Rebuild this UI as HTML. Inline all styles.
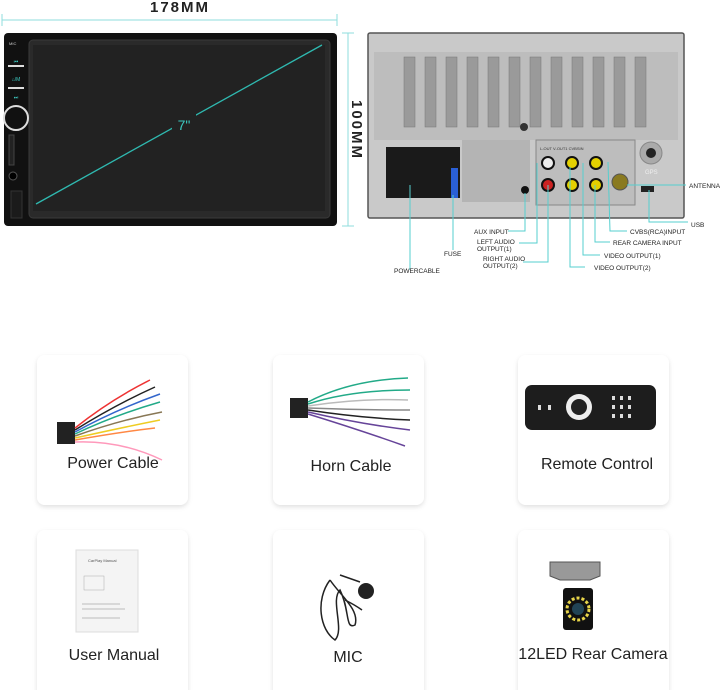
<!DOCTYPE html>
<html><head><meta charset="utf-8"><style>
html,body{margin:0;padding:0;background:#fff;width:720px;height:690px;overflow:hidden;font-family:"Liberation Sans",sans-serif}
</style></head><body>
<svg width="720" height="690" viewBox="0 0 720 690" xmlns="http://www.w3.org/2000/svg" font-family="Liberation Sans, sans-serif">
<defs>
<filter id="sh" x="-10%" y="-10%" width="120%" height="125%"><feDropShadow dx="0" dy="2" stdDeviation="2.5" flood-color="#000" flood-opacity="0.12"/></filter>
</defs>
<text x="180" y="12" font-size="15" font-weight="bold" text-anchor="middle" letter-spacing="2" fill="#222">178MM</text>
<line x1="2" y1="20" x2="337" y2="20" stroke="#8fdede" stroke-width="1"/>
<line x1="2" y1="14" x2="2" y2="26" stroke="#8fdede"/><line x1="337" y1="14" x2="337" y2="26" stroke="#8fdede"/>
<line x1="348" y1="33" x2="348" y2="226" stroke="#8fdede"/>
<line x1="342" y1="33" x2="354" y2="33" stroke="#8fdede"/><line x1="342" y1="226" x2="354" y2="226" stroke="#8fdede"/>
<text transform="translate(352,130) rotate(90)" font-size="15" font-weight="bold" text-anchor="middle" letter-spacing="2" fill="#222">100MM</text>
<rect x="4" y="33" width="333" height="193" rx="4" fill="#111"/>
<rect x="29" y="40" width="301" height="178" rx="4" fill="#2a2a2a" stroke="#3a3a3a"/>
<rect x="33" y="45" width="292" height="166" fill="#222"/>
<line x1="36" y1="204" x2="322" y2="45" stroke="#2fb9b0" stroke-width="1.3"/>
<rect x="172" y="113" width="24" height="20" fill="#222"/>
<text x="184" y="130" font-size="14" fill="#3cc8c0" text-anchor="middle">7"</text>
<text x="9" y="45" font-size="4" fill="#ccc">MIC</text>
<rect x="8" y="65" width="16" height="2" fill="#ddd"/><rect x="8" y="87" width="16" height="2" fill="#ddd"/>
<text x="16" y="63" font-size="5" fill="#3cc8c0" text-anchor="middle">⏮</text>
<text x="16" y="81" font-size="5" fill="#3cc8c0" text-anchor="middle">⌂/M</text>
<text x="16" y="99" font-size="5" fill="#3cc8c0" text-anchor="middle">⏭</text>
<circle cx="16" cy="118" r="12" fill="#111" stroke="#ddd" stroke-width="2"/>
<rect x="9" y="135" width="5" height="30" fill="#222" stroke="#444"/>
<circle cx="13" cy="176" r="4" fill="#000" stroke="#555"/>
<rect x="11" y="191" width="11" height="27" fill="#1b1b1b" stroke="#333"/>
<rect x="368" y="33" width="316" height="185" rx="2" fill="#c9c9c9" stroke="#555" stroke-width="1.5"/>
<rect x="374" y="52" width="304" height="88" fill="#bdbdbd"/>
<g fill="#9a9a9a" stroke="#777" stroke-width="0.5">
<rect x="404" y="57" width="11" height="70"/><rect x="425" y="57" width="11" height="70"/><rect x="446" y="57" width="11" height="70"/><rect x="467" y="57" width="11" height="70"/><rect x="488" y="57" width="11" height="70"/><rect x="509" y="57" width="11" height="70"/><rect x="530" y="57" width="11" height="70"/><rect x="551" y="57" width="11" height="70"/><rect x="572" y="57" width="11" height="70"/><rect x="593" y="57" width="11" height="70"/><rect x="614" y="57" width="11" height="70"/><rect x="635" y="57" width="11" height="70"/>
</g>
<circle cx="524" cy="127" r="4" fill="#333"/>
<rect x="462" y="140" width="68" height="62" fill="#b4b4b4"/>
<rect x="386" y="147" width="74" height="51" fill="#1a1a1a"/>
<rect x="451" y="168" width="7" height="30" fill="#2a5fd6"/>
<circle cx="525" cy="190" r="4" fill="#111"/>
<rect x="536" y="140" width="99" height="65" fill="#bdbdbd" stroke="#888"/>
<text x="540" y="150" font-size="4" fill="#333">L-OUT  V-OUT1  CVBSIN</text>
<g stroke="#111" stroke-width="2">
<circle cx="548" cy="163" r="6" fill="#eee"/><circle cx="572" cy="163" r="6" fill="#e3d000"/><circle cx="596" cy="163" r="6" fill="#e3d000"/>
<circle cx="548" cy="185" r="6" fill="#c22"/><circle cx="572" cy="185" r="6" fill="#e3d000"/><circle cx="596" cy="185" r="6" fill="#e3d000"/>
</g>
<circle cx="620" cy="182" r="8" fill="#8a7a20" stroke="#555"/>
<circle cx="651" cy="153" r="11" fill="#aaa" stroke="#888"/><circle cx="651" cy="153" r="5" fill="#222"/>
<text x="645" y="174" font-size="6" fill="#eee">GPS</text>
<rect x="641" y="186" width="13" height="6" fill="#222"/>
<g stroke="#55cfcf" stroke-width="1" fill="none">
<polyline points="410,185 410,270"/>
<polyline points="453,195 453,250"/>
<polyline points="525,193 525,231 508,231"/>
<polyline points="537,163 537,243 519,243"/>
<polyline points="548,185 548,262 523,262"/>
<polyline points="570,167 570,267 585,267"/>
<polyline points="583,163 583,255 600,255"/>
<polyline points="595,185 595,242 610,242"/>
<polyline points="608,162 610,231 627,231"/>
<polyline points="627,185 686,185"/>
<polyline points="649,190 649,222 688,222"/>
</g>
<g font-size="6.5" fill="#222">
<text x="689" y="188">ANTENNA</text>
<text x="691" y="227">USB</text>
<text x="630" y="234">CVBS(RCA)INPUT</text>
<text x="613" y="245">REAR CAMERA INPUT</text>
<text x="604" y="258">VIDEO OUTPUT(1)</text>
<text x="594" y="270">VIDEO OUTPUT(2)</text>
<text x="474" y="234">AUX INPUT</text>
<text x="477" y="244">LEFT AUDIO</text><text x="477" y="251">OUTPUT(1)</text>
<text x="483" y="261">RIGHT AUDIO</text><text x="483" y="268">OUTPUT(2)</text>
<text x="444" y="256">FUSE</text>
<text x="394" y="273">POWERCABLE</text>
</g>
<g fill="#fff" filter="url(#sh)">
<rect x="37" y="355" width="151" height="150" rx="8"/>
<rect x="273" y="355" width="151" height="150" rx="8"/>
<rect x="518" y="355" width="151" height="150" rx="8"/>
<rect x="37" y="530" width="151" height="170" rx="8"/>
<rect x="273" y="530" width="151" height="170" rx="8"/>
<rect x="518" y="530" width="151" height="170" rx="8"/>
</g>
<g font-size="16" fill="#222" text-anchor="middle">
<text x="113" y="468">Power Cable</text>
<text x="351" y="471">Horn Cable</text>
<text x="597" y="469">Remote Control</text>
<text x="114" y="660">User Manual</text>
<text x="348" y="662">MIC</text>
<text x="593" y="659">12LED Rear Camera</text>
</g>
<rect x="57" y="422" width="18" height="22" fill="#222"/>
<g fill="none" stroke-width="1.5">
<path d="M75,428 Q110,400 150,380" stroke="#e33"/><path d="M75,430 Q115,405 155,387" stroke="#222"/>
<path d="M75,432 Q115,410 160,394" stroke="#36c"/><path d="M75,434 Q115,415 160,402" stroke="#2a8"/>
<path d="M75,436 Q120,420 162,412" stroke="#875"/><path d="M75,438 Q120,428 160,420" stroke="#ec2"/>
<path d="M75,440 Q120,432 155,428" stroke="#f84"/><path d="M75,442 Q120,440 162,460" stroke="#f9b"/>
</g>
<rect x="290" y="398" width="18" height="20" fill="#222"/>
<g fill="none" stroke-width="1.5">
<path d="M308,402 Q350,380 408,378" stroke="#2a8"/><path d="M308,404 Q350,390 410,390" stroke="#2a8"/>
<path d="M308,406 Q360,398 408,400" stroke="#bbb"/><path d="M308,408 Q360,410 410,410" stroke="#888"/>
<path d="M308,410 Q360,418 410,420" stroke="#222"/><path d="M308,412 Q360,424 410,430" stroke="#649"/>
<path d="M308,414 Q360,430 405,446" stroke="#649"/>
</g>
<rect x="525" y="385" width="131" height="45" rx="7" fill="#1d1d1d"/>
<circle cx="579" cy="407" r="13" fill="#eee"/><circle cx="579" cy="407" r="8" fill="#222"/>
<g fill="#ddd"><rect x="612" y="396" width="3" height="4"/><rect x="620" y="396" width="3" height="4"/><rect x="628" y="396" width="3" height="4"/><rect x="612" y="405" width="3" height="4"/><rect x="620" y="405" width="3" height="4"/><rect x="628" y="405" width="3" height="4"/><rect x="612" y="414" width="3" height="4"/><rect x="620" y="414" width="3" height="4"/><rect x="628" y="414" width="3" height="4"/><rect x="538" y="405" width="3" height="5"/><rect x="548" y="405" width="3" height="5"/></g>
<rect x="76" y="550" width="62" height="82" fill="#f4f4f4" stroke="#ddd"/>
<text x="88" y="562" font-size="4" fill="#555">CarPlay Manual</text>
<rect x="84" y="576" width="20" height="14" fill="none" stroke="#aaa" stroke-width="0.5"/>
<g stroke="#bbb" stroke-width="1"><line x1="82" y1="604" x2="120" y2="604"/><line x1="82" y1="609" x2="125" y2="609"/><line x1="82" y1="618" x2="120" y2="618"/></g>
<path d="M330,580 C315,600 320,630 335,640 C345,630 330,600 340,590 C350,610 345,630 355,625 C360,610 340,595 330,580" fill="none" stroke="#222" stroke-width="1.5"/>
<path d="M340,575 L360,582 M345,600 Q355,605 362,610" stroke="#222" fill="none" stroke-width="1.5"/>
<circle cx="366" cy="591" r="8" fill="#222"/>
<path d="M550,562 L600,562 L600,576 L590,580 L560,580 L550,576 Z" fill="#999" stroke="#555"/>
<rect x="563" y="588" width="30" height="42" rx="3" fill="#111"/>
<circle cx="578" cy="609" r="11" fill="none" stroke="#e8d54a" stroke-width="3" stroke-dasharray="3 2"/>
<circle cx="578" cy="609" r="6" fill="#245"/>
</svg>
</body></html>
